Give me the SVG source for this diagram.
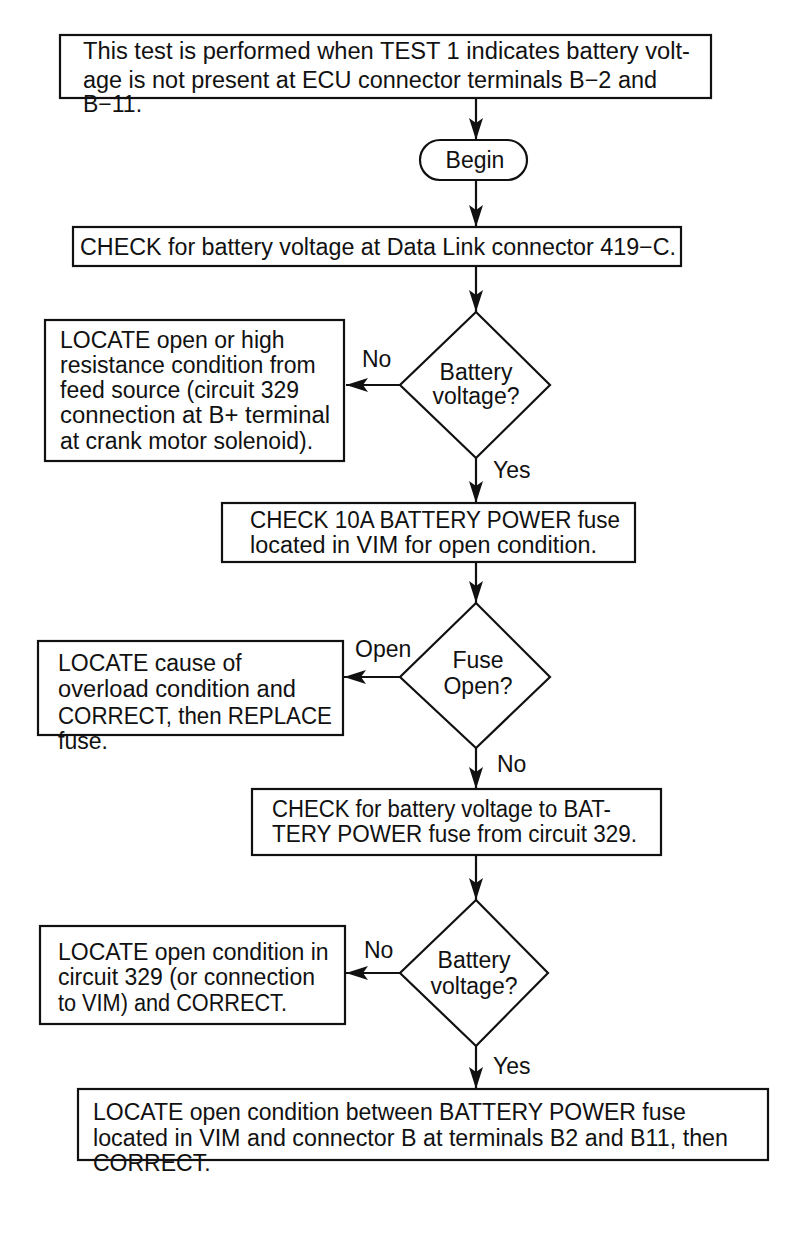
<svg xmlns="http://www.w3.org/2000/svg" width="800" height="1246" viewBox="0 0 800 1246">
<defs>
<style>
.box{fill:#fff;stroke:#111;stroke-width:2.2}
.t{font-family:"Liberation Sans",Arial,sans-serif;font-size:23px;fill:#111}
.c{text-anchor:middle}
.ln{stroke:#111;stroke-width:2.2;fill:none}
</style>
<marker id="ah" markerUnits="userSpaceOnUse" viewBox="0 0 22 14" refX="22" refY="7" markerWidth="22" markerHeight="14" orient="auto">
<path d="M0,0 L22,7 L0,14 L5,7 z" fill="#111"/>
</marker>
</defs>
<rect width="800" height="1246" fill="#fff"/>

<g id="connectors">
<line class="ln" x1="476" y1="98" x2="476" y2="140" marker-end="url(#ah)"/>
<line class="ln" x1="476" y1="180" x2="476" y2="227" marker-end="url(#ah)"/>
<line class="ln" x1="476" y1="266" x2="476" y2="312" marker-end="url(#ah)"/>
<line class="ln" x1="400" y1="385" x2="346" y2="385" marker-end="url(#ah)"/>
<text class="t" x="362" y="367">No</text>
<line class="ln" x1="476" y1="458" x2="476" y2="503" marker-end="url(#ah)"/>
<text class="t" x="493" y="478">Yes</text>
<line class="ln" x1="476" y1="562" x2="476" y2="603" marker-end="url(#ah)"/>
<line class="ln" x1="400" y1="677" x2="344" y2="677" marker-end="url(#ah)"/>
<text class="t" x="355" y="657">Open</text>
<line class="ln" x1="476" y1="748" x2="476" y2="789" marker-end="url(#ah)"/>
<text class="t" x="497" y="772">No</text>
<line class="ln" x1="476" y1="855" x2="476" y2="900" marker-end="url(#ah)"/>
<line class="ln" x1="400" y1="973" x2="346" y2="973" marker-end="url(#ah)"/>
<text class="t" x="364" y="958">No</text>
<line class="ln" x1="476" y1="1046" x2="476" y2="1089" marker-end="url(#ah)"/>
<text class="t" x="493" y="1074">Yes</text>
</g>

<g id="intro">
<rect class="box" x="60" y="35" width="651" height="63"/>
<text class="t" x="83" y="59" textLength="607" lengthAdjust="spacingAndGlyphs">This test is performed when TEST 1 indicates battery volt-</text>
<text class="t" x="83" y="88" textLength="574" lengthAdjust="spacingAndGlyphs">age is not present at ECU connector terminals B−2 and</text>
<text class="t" x="83" y="112">B−11.</text>
</g>

<g id="begin">
<rect class="box" x="420" y="140" width="107" height="40" rx="20" ry="20"/>
<text class="t c" x="475" y="168">Begin</text>
</g>

<g id="check1">
<rect class="box" x="73" y="227" width="608" height="39"/>
<text class="t" x="80" y="255" textLength="596" lengthAdjust="spacingAndGlyphs">CHECK for battery voltage at Data Link connector 419−C.</text>
</g>

<g id="decision1">
<polygon class="box" points="476,312 550,385 476,458 400,385"/>
<text class="t c" x="476" y="380">Battery</text>
<text class="t c" x="476" y="404">voltage?</text>
</g>

<g id="locate1">
<rect class="box" x="45" y="320" width="299" height="141"/>
<text class="t" x="60" y="348">LOCATE open or high</text>
<text class="t" x="60" y="373">resistance condition from</text>
<text class="t" x="60" y="398">feed source (circuit 329</text>
<text class="t" x="60" y="423" textLength="270" lengthAdjust="spacingAndGlyphs">connection at B+ terminal</text>
<text class="t" x="60" y="449">at crank motor solenoid).</text>
</g>

<g id="check2">
<rect class="box" x="222" y="503" width="413" height="59"/>
<text class="t" x="250" y="528" textLength="370" lengthAdjust="spacingAndGlyphs">CHECK 10A BATTERY POWER fuse</text>
<text class="t" x="250" y="553" textLength="347" lengthAdjust="spacingAndGlyphs">located in VIM for open condition.</text>
</g>

<g id="decision2">
<polygon class="box" points="476,603 550,677 476,748 400,677"/>
<text class="t c" x="478" y="668">Fuse</text>
<text class="t c" x="478" y="694">Open?</text>
</g>

<g id="locate2">
<rect class="box" x="38" y="641" width="305" height="94"/>
<text class="t" x="58" y="671">LOCATE cause of</text>
<text class="t" x="58" y="697" textLength="238" lengthAdjust="spacingAndGlyphs">overload condition and</text>
<text class="t" x="58" y="724" textLength="274" lengthAdjust="spacingAndGlyphs">CORRECT, then REPLACE</text>
<text class="t" x="58" y="749">fuse.</text>
</g>

<g id="check3">
<rect class="box" x="252" y="789" width="409" height="66"/>
<text class="t" x="272" y="817" textLength="339" lengthAdjust="spacingAndGlyphs">CHECK for battery voltage to BAT-</text>
<text class="t" x="272" y="842" textLength="365" lengthAdjust="spacingAndGlyphs">TERY POWER fuse from circuit 329.</text>
</g>

<g id="decision3">
<polygon class="box" points="476,900 548,973 476,1046 400,973"/>
<text class="t c" x="474" y="968">Battery</text>
<text class="t c" x="474" y="994">voltage?</text>
</g>

<g id="locate3">
<rect class="box" x="40" y="926" width="305" height="98"/>
<text class="t" x="58" y="960">LOCATE open condition in</text>
<text class="t" x="58" y="985">circuit 329 (or connection</text>
<text class="t" x="58" y="1011" textLength="229" lengthAdjust="spacingAndGlyphs">to VIM) and CORRECT.</text>
</g>

<g id="final">
<rect class="box" x="78" y="1089" width="690" height="71"/>
<text class="t" x="93" y="1120">LOCATE open condition between BATTERY POWER fuse</text>
<text class="t" x="93" y="1146" textLength="635" lengthAdjust="spacingAndGlyphs">located in VIM and connector B at terminals B2 and B11, then</text>
<text class="t" x="93" y="1171">CORRECT.</text>
</g>
</svg>
